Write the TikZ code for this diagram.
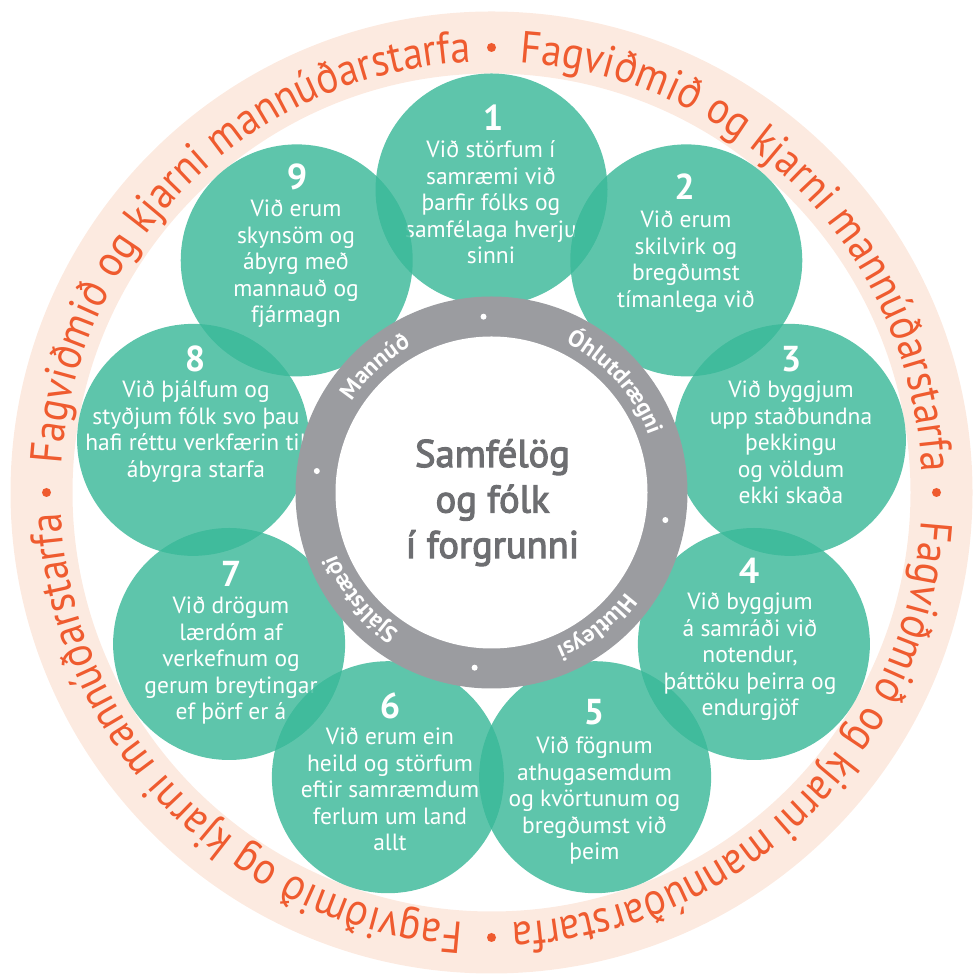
\documentclass[tikz,border=0pt]{standalone}
\usepackage{fontspec}
\setmainfont{PT Sans}
\newfontfamily\bandff[FakeStretch=0.9]{PT Sans}
\newfontfamily\hubff[FakeBold=3]{PT Sans}
\usetikzlibrary{decorations.text}
\definecolor{bandfill}{HTML}{FCEAE0}
\definecolor{bandtext}{HTML}{EF5B2F}
\definecolor{bubblefill}{HTML}{39B898}
\definecolor{ringgray}{HTML}{9B9CA0}
\definecolor{hubtext}{HTML}{6D6E71}
\newcommand\linesblock[1]{\vtop{\halign{\hfil##\hfil\cr#1\crcr}}}
\newcommand\bandfont{\bandff\fontsize{45}{48}\selectfont}
\newcommand\ringfont{\fontsize{23.5}{26}\selectfont\bfseries}
\begin{document}
\begin{tikzpicture}[x=1pt,y=1pt,
  bubble/.style={circle, inner sep=0pt, minimum size=232pt, fill=bubblefill, fill opacity=0.81, draw=none},
  numlabel/.style={anchor=base, text=white, font=\fontsize{36}{40}\selectfont\bfseries, inner sep=0pt},
  bodytext/.style={anchor=base, text=white, font=\fontsize{23.5}{26.5}\selectfont, inner sep=0pt},
  bandarc/.style={decorate, decoration={text along path, text align=center, text color=bandtext,
     text={|\bandfont|Fagviðmið og kjarni mannúðarstarfa}}},
  ringarc/.style={decorate, decoration={text along path, text align=center, text color=white,
     text={|\ringfont|#1}}}
]
\useasboundingbox (0,0) rectangle (975,974);
\coordinate (C) at (491.5,481.5);

% outer band
\fill[bandfill, even odd rule] (C) circle[radius=481pt] (C) circle[radius=419pt];
\foreach \a in {134.5,44.5,-45.5,-135.5}
  \path[bandarc] ([shift={(\a+44:431pt)}]C) arc[start angle=\a+44, end angle=\a-44, radius=431pt];
\foreach \a in {90,0,-90,180}
  \fill[bandtext] ([shift={(\a:445pt)}]C) circle[radius=4.5pt];

% bubbles
\node[bubble] (b1) at ([shift={(90:303pt)}]C) {};
\node[numlabel] (n1) at (493,843) {1};
\node[bodytext] (t1) at (491,816) {\linesblock{Við störfum í\cr samræmi við\cr þarfir fólks og\cr samfélaga hverju\cr sinni}};

\node[bubble] (b2) at ([shift={(50:303pt)}]C) {};
\node[numlabel] (n2) at (684.5,774) {2};
\node[bodytext] (t2) at (686,746) {\linesblock{Við erum\cr skilvirk og\cr bregðumst\cr tímanlega við}};

\node[bubble] (b3) at ([shift={(10:303pt)}]C) {};
\node[numlabel] (n3) at (791,602) {3};
\node[bodytext] (t3) at (791,576) {\linesblock{Við byggjum\cr upp staðbundna\cr þekkingu\cr og völdum\cr ekki skaða}};

\node[bubble] (b5) at ([shift={(-70:303pt)}]C) {};
\node[numlabel] (n5) at (594,249) {5};
\node[bodytext] (t5) at (594.5,220) {\linesblock{Við fögnum\cr athugasemdum\cr og kvörtunum og\cr bregðumst við\cr þeim}};

\node[bubble] (b4) at ([shift={(-30:303pt)}]C) {};
\node[numlabel] (n4) at (749,390) {4};
\node[bodytext] (t4) at (750,364) {\linesblock{Við byggjum\cr á samráði við\cr notendur,\cr þáttöku þeirra og\cr endurgjöf}};

\node[bubble] (b7) at ([shift={(-150:303pt)}]C) {};
\node[numlabel] (n7) at (231,387) {7};
\node[bodytext] (t7) at (231,360) {\linesblock{Við drögum\cr lærdóm af\cr verkefnum og\cr gerum breytingar\cr ef þörf er á}};

\node[bubble] (b6) at ([shift={(-110:303pt)}]C) {};
\node[numlabel] (n6) at (390,255) {6};
\node[bodytext] (t6) at (390,229) {\linesblock{Við erum ein\cr heild og störfum\cr eftir samræmdum\cr ferlum um land\cr allt}};

\node[bubble] (b8) at ([shift={(170:303pt)}]C) {};
\node[numlabel] (n8) at (195,602) {8};
\node[bodytext] (t8) at (196,576) {\linesblock{Við þjálfum og\cr styðjum fólk svo þau\cr hafi réttu verkfærin til\cr ábyrgra starfa}};

\node[bubble] (b9) at ([shift={(130:303pt)}]C) {};
\node[numlabel] (n9) at (297,784) {9};
\node[bodytext] (t9) at (296,757) {\linesblock{Við erum\cr skynsöm og\cr ábyrg með\cr mannauð og\cr fjármagn}};

% grey ring and hub
\fill[ringgray] (C) circle[radius=196pt];
\node[circle, fill=white, minimum size=312pt, inner sep=0pt] (hub) at (C) {};
\foreach \a in {92.6,-9,-95.5,173}
  \fill[white] ([shift={(\a:176pt)}]C) circle[radius=3pt];
\path[ringarc=Mannúð] ([shift={(172.8:167pt)}]C) arc[start angle=172.8, end angle=92.8, radius=167pt];
\path[ringarc=Óhlutdrægni] ([shift={(91.8:167pt)}]C) arc[start angle=91.8, end angle=-8.2, radius=167pt];
\path[ringarc=Hlutleysi] ([shift={(-2:167pt)}]C) arc[start angle=-2, end angle=-102, radius=167pt];
\path[ringarc=Sjálfstæði] ([shift={(-91:167pt)}]C) arc[start angle=-91, end angle=-191, radius=167pt];

\node[anchor=base, text=hubtext, font=\hubff\fontsize{38.5}{45.5}\selectfont, inner sep=0pt] (title) at (492.5,507) {\linesblock{Samfélög\cr og fólk\cr í forgrunni}};
\end{tikzpicture}
\end{document}
